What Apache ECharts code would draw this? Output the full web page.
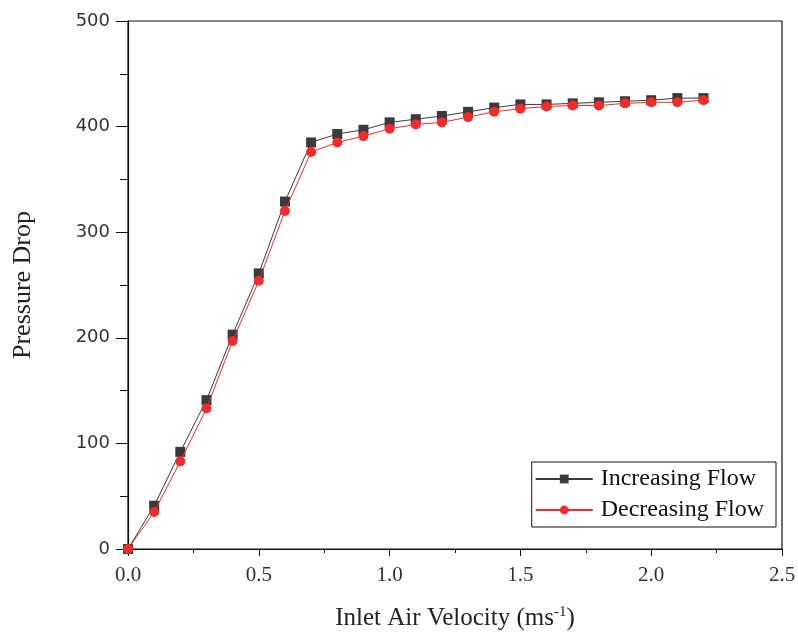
<!DOCTYPE html>
<html>
<head>
<meta charset="utf-8">
<style>
  html, body { margin: 0; padding: 0; background: #fff; }
  #chart { width: 798px; height: 634px; }
</style>
<script src="https://cdn.jsdelivr.net/npm/echarts@6/dist/echarts.min.js"></script>
</head>
<body>
<div id="chart"></div>
<script>
// Inlet air velocity (m/s)
const velocity = [0.0, 0.1, 0.2, 0.3, 0.4, 0.5, 0.6, 0.7, 0.8, 0.9, 1.0, 1.1,
                  1.2, 1.3, 1.4, 1.5, 1.6, 1.7, 1.8, 1.9, 2.0, 2.1, 2.2];
// Pressure drop, increasing flow
const increasingFlow = [0, 41, 92, 141, 203, 261, 329, 385, 393, 397, 404, 407,
                        410, 414, 418, 421, 421, 422, 423, 424, 425, 427, 427];
// Pressure drop, decreasing flow
const decreasingFlow = [0, 35, 83, 133, 197, 254, 320, 376, 385, 391, 398, 402,
                        404, 409, 414, 417, 419, 420, 420, 422, 423, 423, 425];
const seriesNames = ['Increasing Flow', 'Decreasing Flow'];

const pairs = (xs, ys) => xs.map((x, i) => [x, ys[i]]);

const chart = echarts.init(document.getElementById('chart'), null, { renderer: 'canvas' });
const serif = '"Liberation Serif", "Times New Roman", serif';
const sans = '"DejaVu Sans", Tahoma, sans-serif';

chart.setOption({
  animation: false,
  backgroundColor: '#fff',
  grid: {
    left: 128, right: 16, top: 21, bottom: 85,
    containLabel: false,
    outerBoundsMode: 'none',
    show: true, borderColor: '#111', borderWidth: 1.2, backgroundColor: 'transparent'
  },
  legend: {
    right: 22, top: 462,
    orient: 'vertical',
    itemGap: 7,
    itemWidth: 57,
    itemHeight: 11,
    borderColor: '#111',
    borderWidth: 1,
    padding: [5, 12, 5, 3],
    textStyle: { fontFamily: serif, fontSize: 24, color: '#111', padding: [0, 0, 0, 3] },
    data: seriesNames
  },
  xAxis: {
    type: 'value',
    min: 0, max: 2.5, interval: 0.5,
    name: '{a|Inlet Air Velocity (ms}{s|-1}{a|)}',
    nameLocation: 'middle',
    nameGap: 56,
    nameTextStyle: {
      rich: {
        a: { fontFamily: serif, fontSize: 25, color: '#222' },
        s: { fontFamily: serif, fontSize: 15, color: '#222', verticalAlign: 'top', padding: [0, 0, 12, 0] }
      }
    },
    axisLine: { show: true, lineStyle: { color: '#111', width: 1.2 } },
    axisTick: { show: true, length: 7, lineStyle: { color: '#111' } },
    minorTick: { show: true, splitNumber: 2, length: 4, lineStyle: { color: '#111' } },
    splitLine: { show: false },
    axisLabel: {
      fontFamily: serif, fontSize: 21, color: '#333', margin: 16,
      formatter: v => v.toFixed(1)
    }
  },
  yAxis: {
    type: 'value',
    min: 0, max: 500, interval: 100,
    name: 'Pressure Drop',
    nameLocation: 'middle',
    nameGap: 92,
    nameTextStyle: { fontFamily: serif, fontSize: 26, color: '#222' },
    axisLine: { show: true, lineStyle: { color: '#111', width: 1.2 } },
    axisTick: { show: true, length: 12, lineStyle: { color: '#111' } },
    minorTick: { show: true, splitNumber: 2, length: 8, lineStyle: { color: '#111' } },
    splitLine: { show: false },
    axisLabel: { fontFamily: sans, fontSize: 18, color: '#333', margin: 18 }
  },
  series: [
    {
      name: seriesNames[0],
      type: 'line',
      data: pairs(velocity, increasingFlow),
      symbol: 'rect',
      symbolSize: 10,
      color: '#3a3a3a',
      lineStyle: { color: '#3a3a3a', width: 1 },
      itemStyle: { color: '#3a3a3a' },
      z: 2
    },
    {
      name: seriesNames[1],
      type: 'line',
      data: pairs(velocity, decreasingFlow),
      symbol: 'circle',
      symbolSize: 10,
      color: '#f22a2a',
      lineStyle: { color: '#f22a2a', width: 1 },
      itemStyle: { color: '#f22a2a' },
      z: 3
    }
  ]
});
</script>
</body>
</html>
